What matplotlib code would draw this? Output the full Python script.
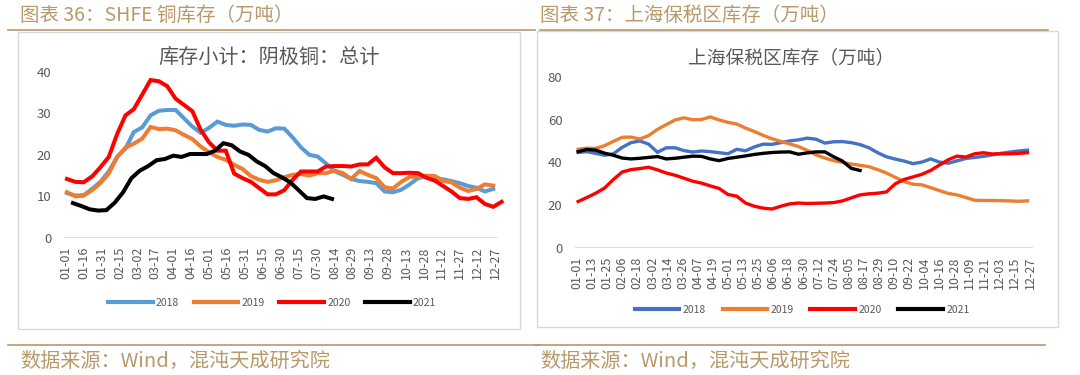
import numpy as np
import matplotlib
matplotlib.use('Agg')
import matplotlib.pyplot as plt
from matplotlib.patches import Rectangle
from matplotlib.lines import Line2D

plt.rcParams['font.family'] = ['Noto Sans CJK SC', 'DejaVu Sans']

# Cores
COR_2018_SHFE = '#5B9BD5'
COR_2018_BONDED = '#4472C4'
COR_2019 = '#ED7D31'
COR_2020 = '#FF0000'
COR_2021 = '#000000'
COR_DOURADO = '#B8996A'
COR_TEXTO = '#595959'

ANOS = ['2018', '2019', '2020', '2021']

# SHFE copper stocks (10k t), weekly
SHFE_TICKS = ['01-01', '01-16', '01-31', '02-15', '03-02', '03-17', '04-01', '04-16',
              '05-01', '05-16', '05-31', '06-15', '06-30', '07-15', '07-30', '08-14',
              '08-29', '09-13', '09-28', '10-13', '10-28', '11-12', '11-27', '12-12', '12-27']
SHFE_INICIO = {'2018': 1, '2019': 1, '2020': 1, '2021': 6}
shfe_2018 = [10.8, 10.2, 10.3, 11.8, 13.5, 16.0, 19.5, 21.5, 25.5, 26.6, 29.5, 30.6, 30.8,
             30.8, 28.8, 26.8, 25.3, 26.5, 28.0, 27.2, 27.0, 27.3, 27.2, 26.0, 25.6, 26.4,
             26.3, 24.2, 21.8, 20.0, 19.6, 17.9, 16.1, 15.2, 14.2, 13.7, 13.5, 13.2, 11.2,
             11.0, 11.6, 12.9, 14.4, 14.8, 14.5, 14.1, 13.7, 13.2, 12.5, 12.1, 11.2, 11.8]
shfe_2019 = [11.0, 10.0, 10.2, 11.5, 13.2, 15.5, 19.5, 21.7, 22.7, 23.9, 26.7, 26.2, 26.3,
             25.9, 24.8, 23.8, 22.0, 20.6, 19.5, 18.8, 17.6, 16.6, 14.9, 14.0, 13.5, 13.9,
             14.6, 15.2, 15.4, 15.0, 15.6, 15.6, 16.2, 15.6, 14.2, 16.1, 15.2, 14.4, 12.2,
             11.9, 13.5, 14.7, 14.8, 15.0, 14.9, 13.7, 13.4, 12.1, 11.3, 11.8, 12.9, 12.6]
shfe_2020 = [14.2, 13.5, 13.4, 14.8, 17.0, 19.5, 25.0, 29.5, 31.0, 34.5, 38.0, 37.7, 36.5,
             33.5, 32.0, 30.5, 26.0, 23.0, 21.0, 21.0, 15.5, 14.4, 13.5, 12.0, 10.5, 10.5,
             11.5, 14.0, 16.0, 16.0, 16.0, 17.2, 17.3, 17.3, 17.2, 17.7, 17.7, 19.3, 17.0,
             15.6, 15.6, 15.7, 15.6, 14.5, 13.8, 12.5, 11.2, 9.6, 9.4, 9.8, 8.2, 7.5, 8.7]
shfe_2021 = [8.4, 7.7, 6.9, 6.6, 6.7, 8.5, 11.0, 14.4, 16.2, 17.3, 18.7, 19.0, 19.8, 19.5,
             20.2, 20.2, 20.2, 21.0, 22.8, 22.3, 20.8, 20.0, 18.4, 17.3, 15.6, 14.6, 13.4,
             11.5, 9.6, 9.4, 10.0, 9.4]

# Shanghai bonded stocks (10k t), weekly
BONDED_TICKS = ['01-01', '01-13', '01-25', '02-06', '02-18', '03-02', '03-14', '03-26',
                '04-07', '04-19', '05-01', '05-13', '05-25', '06-06', '06-18', '06-30',
                '07-12', '07-24', '08-05', '08-17', '08-29', '09-10', '09-22', '10-04',
                '10-16', '10-28', '11-09', '11-21', '12-03', '12-15', '12-27']
BONDED_INICIO = {'2018': 1, '2019': 1, '2020': 1, '2021': 1}
bonded_2018 = [44.6, 45.0, 44.2, 43.3, 44.0, 47.0, 49.2, 50.0, 48.5, 44.7, 46.8, 46.8, 45.5,
               44.8, 45.3, 45.0, 44.5, 44.0, 46.1, 45.4, 47.2, 48.5, 48.4, 49.2, 50.0, 50.5,
               51.3, 50.8, 49.0, 49.6, 49.7, 49.2, 48.3, 46.8, 44.5, 42.6, 41.5, 40.6, 39.4,
               40.1, 41.6, 40.1, 39.6, 40.7, 41.8, 42.3, 42.8, 43.5, 44.2, 44.8, 45.3, 45.7]
bonded_2019 = [46.1, 46.6, 46.5, 47.8, 49.8, 51.7, 51.8, 50.9, 52.5, 55.4, 57.6, 59.8, 60.8,
               59.9, 60.0, 61.2, 59.8, 58.7, 57.9, 56.0, 54.4, 52.6, 51.0, 49.8, 48.6, 47.4,
               45.6, 43.5, 42.0, 40.8, 40.0, 39.2, 38.6, 38.0, 36.6, 35.0, 33.0, 31.0, 29.8,
               29.5, 28.2, 26.8, 25.5, 24.8, 23.6, 22.3, 22.2, 22.2, 22.1, 22.0, 21.8, 22.0]
bonded_2020 = [21.7, 23.6, 25.6, 28.0, 32.0, 35.5, 36.6, 37.1, 37.7, 36.5, 35.0, 34.0, 32.6,
               31.2, 30.3, 29.0, 27.8, 25.0, 24.2, 21.0, 19.5, 18.6, 18.2, 19.5, 20.6, 21.0,
               20.8, 20.9, 21.0, 21.2, 22.0, 23.4, 24.8, 25.3, 25.6, 26.2, 30.0, 32.0, 33.2,
               34.4, 36.2, 38.7, 41.2, 42.9, 42.5, 44.0, 44.5, 43.9, 44.0, 44.0, 44.2, 44.5]
bonded_2021 = [45.0, 46.0, 45.7, 44.3, 43.3, 42.0, 41.6, 41.9, 42.3, 42.7, 41.6, 41.9, 42.4,
               42.9, 42.8, 41.6, 40.8, 41.8, 42.4, 43.0, 43.7, 44.2, 44.6, 44.8, 44.9, 43.8,
               44.4, 44.9, 44.9, 42.6, 40.6, 37.2, 36.2]

fig = plt.figure(figsize=(10.8, 3.75), dpi=100)


def px(x0, y0, w, h):
    # converte pixels da imagem (origem no topo) para fracao da figura
    return [x0 / 1080, 1 - (y0 + h) / 375, w / 1080, h / 375]


# Molduras, linhas douradas e textos do relatorio
fundo = fig.add_axes([0, 0, 1, 1])
fundo.set_xlim(0, 1080)
fundo.set_ylim(375, 0)
fundo.axis('off')
fundo.add_patch(Rectangle((18, 32), 502, 297, facecolor='white', edgecolor='#D9D9D9', lw=1))
fundo.add_patch(Rectangle((537, 31), 521, 296, facecolor='white', edgecolor='#D9D9D9', lw=1))
fundo.plot([8, 535], [29.5, 29.5], color=COR_DOURADO, lw=1.2)
fundo.plot([540, 1048], [29.5, 29.5], color=COR_DOURADO, lw=1.2)
fundo.plot([8, 540], [345, 345], color=COR_DOURADO, lw=1.2)
fundo.plot([535, 1045], [345, 345], color=COR_DOURADO, lw=1.2)
fundo.text(20, 15, '图表 36：SHFE 铜库存（万吨）', color=COR_DOURADO, fontsize=14, va='center')
fundo.text(540, 15, '图表 37：上海保税区库存（万吨）', color=COR_DOURADO, fontsize=14, va='center')
fundo.text(20, 361, '数据来源：Wind，混沌天成研究院', color=COR_DOURADO, fontsize=14.5, va='center')
fundo.text(540, 361, '数据来源：Wind，混沌天成研究院', color=COR_DOURADO, fontsize=14.5, va='center')


def desenha(ax, series, inicios, cores, lw, ticks, passo, ymax, ystep, xmax):
    for ano, valores, cor in zip(ANOS, series, cores):
        dias = inicios[ano] + 7 * np.arange(len(valores))
        ax.plot(dias, valores, color=cor, lw=lw, solid_joinstyle='miter', clip_on=False, label=ano)
    ax.axhline(0, color='#D9D9D9', lw=1.2, zorder=0)
    ax.set_xlim(-1.5, xmax)
    ax.set_ylim(0, ymax)
    ax.set_yticks(np.arange(0, ymax + 1, ystep))
    ax.set_xticks(passo * np.arange(len(ticks)))
    ax.set_xticklabels(ticks, rotation=90)
    ax.tick_params(length=0, colors=COR_TEXTO)
    ax.tick_params(axis='y', pad=9, labelsize=9.5)
    ax.tick_params(axis='x', pad=6, labelsize=9)
    for s in ax.spines.values():
        s.set_visible(False)
    ax.patch.set_alpha(0)


# Grafico da SHFE
ax1 = fig.add_axes(px(64, 71.7, 434, 166.3))
desenha(ax1, [shfe_2018, shfe_2019, shfe_2020, shfe_2021], SHFE_INICIO,
        [COR_2018_SHFE, COR_2019, COR_2020, COR_2021], 2.9, SHFE_TICKS, 15, 40, 10, 362)
fig.text(269 / 1080, 1 - 57 / 375, '库存小计：阴极铜：总计', color=COR_TEXTO, fontsize=14.5,
         ha='center', va='center')
ax1.legend(loc='center', bbox_to_anchor=(272 / 1080, 1 - 303 / 375), bbox_transform=fig.transFigure,
           ncol=4, frameon=False, fontsize=7.5, handlelength=4.3, handletextpad=0.3,
           columnspacing=1.4, labelcolor=COR_TEXTO,
           handles=[Line2D([], [], color=c, lw=3) for c in [COR_2018_SHFE, COR_2019, COR_2020, COR_2021]],
           labels=ANOS)

# Grafico do Shanghai bonded
ax2 = fig.add_axes(px(575, 76.7, 458, 171.3))
desenha(ax2, [bonded_2018, bonded_2019, bonded_2020, bonded_2021], BONDED_INICIO,
        [COR_2018_BONDED, COR_2019, COR_2020, COR_2021], 2.4, BONDED_TICKS, 12, 80, 20, 362.4)
fig.text(791 / 1080, 1 - 58 / 375, '上海保税区库存（万吨）', color=COR_TEXTO, fontsize=13.5,
         ha='center', va='center')
ax2.legend(loc='center', bbox_to_anchor=(802 / 1080, 1 - 310 / 375), bbox_transform=fig.transFigure,
           ncol=4, frameon=False, fontsize=7.5, handlelength=4.3, handletextpad=0.3,
           columnspacing=1.6, labelcolor=COR_TEXTO,
           handles=[Line2D([], [], color=c, lw=3) for c in [COR_2018_BONDED, COR_2019, COR_2020, COR_2021]],
           labels=ANOS)

plt.savefig('out.png', dpi=100)
